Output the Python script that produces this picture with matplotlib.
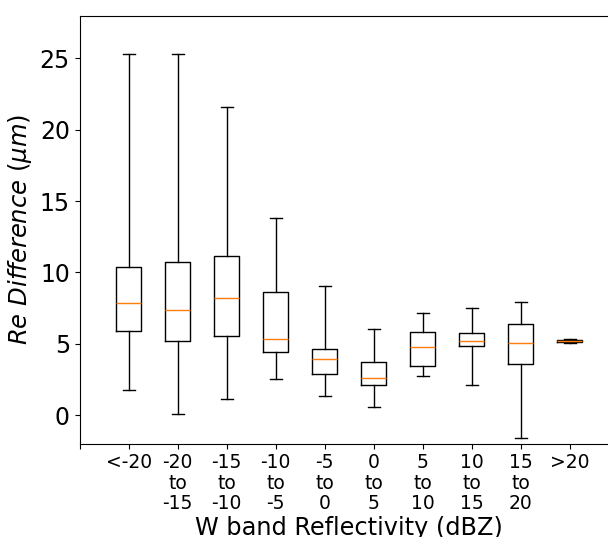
import matplotlib
matplotlib.use('Agg')
import matplotlib.pyplot as plt

# ============================== 数据 ==============================
categories = ['<-20', '-20\nto\n-15', '-15\nto\n-10', '-10\nto\n-5', '-5\nto\n0',
              '0\nto\n5', '5\nto\n10', '10\nto\n15', '15\nto\n20', '>20']
whisker_low = [1.75, 0.09, 1.14, 2.54, 1.31, 0.56, 2.71, 2.10, -1.59, 5.08]
q1 = [5.86, 5.16, 5.56, 4.44, 2.89, 2.10, 3.45, 4.85, 3.59, 5.12]
medians = [7.87, 7.33, 8.21, 5.35, 3.90, 2.61, 4.76, 5.22, 5.03, 5.20]
q3 = [10.37, 10.76, 11.18, 8.59, 4.62, 3.73, 5.83, 5.76, 6.38, 5.26]
whisker_high = [25.3, 25.3, 21.6, 13.8, 9.04, 6.01, 7.13, 7.48, 7.92, 5.30]

# ============================== 绘图 ==============================
fig = plt.figure(figsize=(6.08, 5.37), dpi=100)
ax = fig.add_axes([0.131, 0.174, 0.8865, 0.797])

stats = []
for i in range(len(categories)):
    stats.append({'whislo': whisker_low[i], 'q1': q1[i], 'med': medians[i],
                  'q3': q3[i], 'whishi': whisker_high[i], 'fliers': []})

positions = list(range(1, len(categories) + 1))
ax.bxp(stats, positions=positions, showfliers=False)

ax.set_xticks(range(0, len(categories) + 1))
ax.set_xticklabels([''] + categories, fontsize=13.5, linespacing=1.1)
ax.set_xlim(0, 11)
ax.set_ylim(-2, 28)
ax.set_yticks([0, 5, 10, 15, 20, 25])
ax.tick_params(axis='y', labelsize=17)
ax.spines['right'].set_visible(False)

ax.set_xlabel('W band Reflectivity (dBZ)', fontsize=17.3, labelpad=2)
ax.set_ylabel(r'$Re\ Difference\ (\mu m)$', fontsize=17.5)

plt.savefig('out.png', dpi=100)
plt.close()
